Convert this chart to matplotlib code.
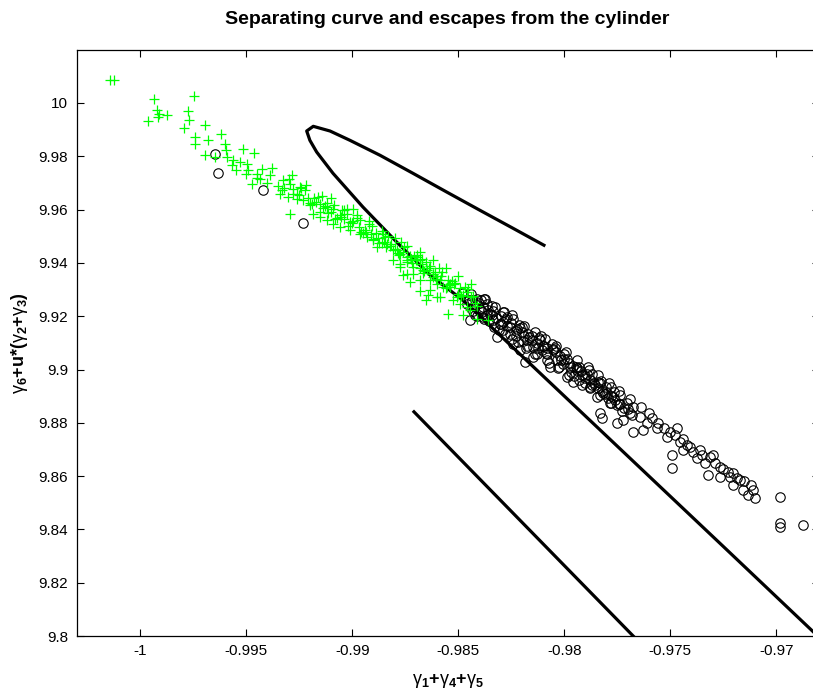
import matplotlib
matplotlib.use("Agg")
import matplotlib.pyplot as plt

plt.rcParams['font.family'] = ['Liberation Sans', 'DejaVu Sans']
plt.rcParams['mathtext.fontset'] = 'custom'
plt.rcParams['mathtext.rm'] = 'Liberation Sans:bold'
plt.rcParams['mathtext.bf'] = 'Liberation Sans:bold'
plt.rcParams['mathtext.it'] = 'Liberation Sans'

# separating curve (loop) and the second branch
curve_x = [-0.98096, -0.98242, -0.98398, -0.98555, -0.98714, -0.98869, -0.99011,
           -0.99105, -0.99184, -0.99215, -0.99200, -0.99168, -0.99091, -0.98950,
           -0.98791, -0.98633, -0.98478, -0.97242, -0.96826, -0.96794]
curve_y = [9.94663, 9.95300, 9.95975, 9.96661, 9.97363, 9.98038, 9.98600,
           9.98949, 9.99125, 9.98949, 9.98600, 9.98161, 9.97363, 9.96099,
           9.94786, 9.93538, 9.92600, 9.83300, 9.80161, 9.79906]
branch_x = [-0.98709, -0.97675, -0.97660]
branch_y = [9.88413, 9.80000, 9.79880]

# trajectories staying inside (green)
stay_x = [-1.00143, -1.00124, -0.99934, -0.99745, -0.99920, -0.99910, -0.99876, -0.99962,
          -0.99915, -0.99773, -0.99769, -0.99794, -0.99696, -0.99621, -0.99742, -0.99742,
          -0.99679, -0.99601, -0.99596, -0.99517, -0.99464, -0.99695, -0.99648, -0.99593,
          -0.99561, -0.99569, -0.99530, -0.99498, -0.99490, -0.99451, -0.99428, -0.99380,
          -0.99388, -0.99435, -0.99475, -0.99325, -0.99286, -0.99294, -0.99247, -0.99223,
          -0.99333, -0.99341, -0.99302, -0.99262, -0.99231, -0.99200, -0.99152, -0.99121,
          -0.99090, -0.99184, -0.99152, -0.99294, -0.99121, -0.99090, -0.99058, -0.98995,
          -0.99027, -0.99011, -0.98964, -0.98932, -0.98901, -0.98854, -0.98838, -0.98885,
          -0.98807, -0.98775, -0.98744, -0.98697, -0.98673, -0.98712, -0.98665, -0.98618,
          -0.98587, -0.98555, -0.98807, -0.98775, -0.98744, -0.98681, -0.98634, -0.98602,
          -0.98650,
          -0.99280, -0.99250, -0.99210, -0.99170, -0.99140, -0.99100, -0.99060, -0.99040,
          -0.99000, -0.98970, -0.98940, -0.98910, -0.98880, -0.98850, -0.98820, -0.98790,
          -0.98760, -0.98730, -0.98700, -0.98670, -0.98640, -0.98610, -0.98580, -0.98550,
          -0.98520, -0.98490, -0.98460, -0.98430,
          -0.99150, -0.99080, -0.99020, -0.98960, -0.98900, -0.98840, -0.98780, -0.98720,
          -0.98660, -0.98600, -0.98540, -0.98480, -0.98420,
          -0.99180, -0.99120, -0.99050, -0.98980, -0.98920, -0.98860, -0.98800, -0.98740,
          -0.98680, -0.98620, -0.98560, -0.98500, -0.98440,
          -0.99350, -0.99320, -0.99400, -0.99450, -0.99500, -0.99550,
          -0.98775, -0.98744, -0.98696, -0.98681, -0.98649, -0.98618, -0.98602, -0.98571,
          -0.98539, -0.98586, -0.98547, -0.98523, -0.98492, -0.98460, -0.98445, -0.98413,
          -0.98358, -0.98476, -0.98508, -0.98634, -0.98712, -0.98681, -0.98641, -0.98759,
          -0.98728,
          -0.99300, -0.99260, -0.99220, -0.99190, -0.99160, -0.99130, -0.99100, -0.99070,
          -0.99040, -0.99010, -0.98980, -0.98950, -0.98920, -0.98890, -0.98860, -0.98830,
          -0.98800, -0.98770, -0.98740, -0.98710, -0.98680, -0.98650, -0.98620, -0.98590,
          -0.98560, -0.98530, -0.98500, -0.98470, -0.98440, -0.98410,
          -0.99280, -0.99240, -0.99200, -0.99145, -0.99115, -0.99085, -0.99055, -0.99025,
          -0.98995, -0.98965, -0.98935, -0.98905, -0.98875, -0.98845, -0.98815, -0.98785,
          -0.98755, -0.98725, -0.98695, -0.98665, -0.98635, -0.98605, -0.98575, -0.98545,
          -0.98515, -0.98485, -0.98455]
stay_y = [10.00850, 10.00850, 10.00163, 10.00250, 9.99750, 9.99600, 9.99563, 9.99313,
          9.99475, 9.99700, 9.99350, 9.99063, 9.99163, 9.98825, 9.98725, 9.98475,
          9.98625, 9.98475, 9.98225, 9.98288, 9.98125, 9.98038, 9.97975, 9.97975,
          9.97850, 9.97663, 9.97788, 9.97725, 9.97475, 9.97350, 9.97538, 9.97575,
          9.97288, 9.97163, 9.96975, 9.97100, 9.97288, 9.96975, 9.96850, 9.96725,
          9.96725, 9.96600, 9.96475, 9.96413, 9.96350, 9.96163, 9.96225, 9.96100,
          9.96038, 9.95850, 9.95725, 9.95850, 9.95600, 9.95475, 9.95350, 9.96038,
          9.95850, 9.95225, 9.95100, 9.94975, 9.94850, 9.95100, 9.94725, 9.94600,
          9.94475, 9.94350, 9.94225, 9.94100, 9.94163, 9.93850, 9.93725, 9.93600,
          9.93350, 9.93100, 9.94100, 9.93850, 9.93600, 9.93350, 9.92975, 9.92725,
          9.92600,
          9.96600, 9.96550, 9.96450, 9.96300, 9.96050, 9.95900, 9.95800, 9.95650,
          9.95500, 9.95350, 9.95250, 9.95100, 9.94950, 9.94800, 9.94650, 9.94500,
          9.94400, 9.94250, 9.94100, 9.93950, 9.93800, 9.93650, 9.93500, 9.93350,
          9.93200, 9.93050, 9.92900, 9.92750,
          9.95900, 9.95650, 9.95400, 9.95150, 9.94900, 9.94600, 9.94300, 9.94000,
          9.93700, 9.93400, 9.93100, 9.92800, 9.92500,
          9.96450, 9.96250, 9.96000, 9.95700, 9.95450, 9.95200, 9.94950, 9.94650,
          9.94400, 9.94100, 9.93800, 9.93500, 9.93200,
          9.96900, 9.96800, 9.97000, 9.97200, 9.97350, 9.97500,
          9.93975, 9.94100, 9.94225, 9.94100, 9.93725, 9.93475, 9.93225, 9.93100,
          9.93225, 9.92725, 9.92100, 9.92600, 9.92475, 9.92350, 9.92225, 9.91913,
          9.91850, 9.92038, 9.92725, 9.93350, 9.93600, 9.92950, 9.92788, 9.93538,
          9.93288,
          9.97160, 9.96592, 9.96924, 9.96198, 9.96472, 9.96146, 9.96420, 9.95694,
          9.95968, 9.95542, 9.95794, 9.95135, 9.95576, 9.95117, 9.94758, 9.94999,
          9.94540, 9.94781, 9.94022, 9.94263, 9.93804, 9.94045, 9.93586, 9.93827,
          9.93068, 9.93309, 9.92850, 9.93091, 9.92732, 9.92373,
          9.96776, 9.96808, 9.96240, 9.96509, 9.95883, 9.96157, 9.95731, 9.96005,
          9.95573, 9.95614, 9.95156, 9.95397, 9.94738, 9.94979, 9.94720, 9.94361,
          9.94602, 9.94143, 9.94284, 9.93625, 9.93866, 9.93407, 9.93648, 9.93189,
          9.93230, 9.92771, 9.93012]

# escapes from the cylinder (black circles)
esc_x = [-0.99648, -0.99632, -0.99420, -0.99231,
         -0.98484, -0.98437, -0.98374, -0.98366, -0.98398, -0.98445, -0.98421, -0.98382,
         -0.98351, -0.98335, -0.98303, -0.98272, -0.98248, -0.98288, -0.98319, -0.98256,
         -0.98225, -0.98201, -0.98241, -0.98209, -0.98178, -0.98146, -0.98115, -0.98107,
         -0.98146, -0.98083, -0.98052, -0.98036, -0.98068, -0.98185, -0.98005, -0.97973,
         -0.97942, -0.97989, -0.97958, -0.97918, -0.97895, -0.97871, -0.97903, -0.97879,
         -0.97832, -0.97816, -0.97848, -0.97801, -0.97769, -0.97738, -0.97785, -0.97706,
         -0.97675, -0.97690, -0.97722, -0.97753, -0.97832, -0.97824, -0.97643, -0.97612,
         -0.97588, -0.97627, -0.97675, -0.97565, -0.97517, -0.97502, -0.97470, -0.97455,
         -0.97494, -0.97494, -0.97439, -0.97407, -0.97392, -0.97360, -0.97376, -0.97337,
         -0.97321, -0.97313, -0.97297, -0.97266, -0.97266, -0.97227, -0.97219, -0.97203,
         -0.97187, -0.97203, -0.97172, -0.97156, -0.97132, -0.97109, -0.97101, -0.96983,
         -0.96983, -0.96983, -0.96873, -0.98478, -0.98413, -0.98379,
         -0.98450, -0.98420, -0.98400, -0.98390, -0.98360, -0.98340, -0.98320, -0.98300,
         -0.98290, -0.98270, -0.98250, -0.98230, -0.98210, -0.98190, -0.98170, -0.98150,
         -0.98130, -0.98120, -0.98100, -0.98080, -0.98060, -0.98040, -0.98020, -0.98000,
         -0.97980, -0.97960, -0.97940, -0.97920, -0.97900, -0.97880, -0.97860, -0.97840,
         -0.97820, -0.97800, -0.97780, -0.97760, -0.97740, -0.97720, -0.97700, -0.97680,
         -0.98380, -0.98330, -0.98280, -0.98220, -0.98180, -0.98130, -0.98080, -0.98030,
         -0.97980, -0.97930, -0.97880, -0.97830, -0.97780, -0.97730,
         -0.98340, -0.98290, -0.98240, -0.98190, -0.98140, -0.98090, -0.98040, -0.97990,
         -0.97940, -0.97890, -0.97840, -0.97790, -0.97740, -0.97690, -0.97640, -0.97600,
         -0.97560, -0.97530, -0.97480, -0.97440, -0.97420, -0.97350, -0.97290, -0.97250,
         -0.97150, -0.97120,
         -0.98440, -0.98410, -0.98385, -0.98355, -0.98325, -0.98300, -0.98275, -0.98245,
         -0.98215, -0.98195, -0.98165, -0.98140, -0.98110, -0.98085, -0.98055, -0.98025,
         -0.98000, -0.97970, -0.97945, -0.97915, -0.97885, -0.97855, -0.97825, -0.97795,
         -0.97765, -0.97735,
         -0.98460, -0.98430, -0.98395, -0.98365, -0.98335, -0.98310, -0.98285, -0.98255,
         -0.98230, -0.98200, -0.98175, -0.98150, -0.98125, -0.98095, -0.98070, -0.98045,
         -0.98015, -0.97985, -0.97955, -0.97930, -0.97900, -0.97870, -0.97840, -0.97810,
         -0.97780, -0.97750]
esc_y = [9.98100, 9.97375, 9.96750, 9.95513,
         9.92875, 9.92600, 9.92663, 9.92475, 9.92288, 9.91850, 9.92038, 9.91975,
         9.92100, 9.91850, 9.91725, 9.91975, 9.92038, 9.91475, 9.91225, 9.91350,
         9.91538, 9.91413, 9.90975, 9.90725, 9.91100, 9.90850, 9.91100, 9.90725,
         9.90475, 9.90600, 9.90725, 9.90350, 9.90100, 9.90288, 9.90225, 9.90100,
         9.89975, 9.89725, 9.89538, 9.89788, 9.89850, 9.89850, 9.89475, 9.89288,
         9.89475, 9.89100, 9.88975, 9.89350, 9.88975, 9.89038, 9.88725, 9.88725,
         9.88600, 9.88350, 9.88100, 9.87975, 9.88350, 9.88163, 9.88225, 9.87975,
         9.88163, 9.87725, 9.87663, 9.87788, 9.87475, 9.87663, 9.87788, 9.87288,
         9.86788, 9.86288, 9.86975, 9.87100, 9.86913, 9.86975, 9.86663, 9.86475,
         9.86038, 9.86725, 9.86788, 9.86350, 9.85975, 9.86163, 9.85975, 9.86100,
         9.85913, 9.85663, 9.85850, 9.85475, 9.85288, 9.85475, 9.85163, 9.85225,
         9.84225, 9.84100, 9.84163, 9.92874, 9.92664, 9.92638,
         9.92600, 9.92450, 9.92500, 9.92150, 9.92250, 9.92050, 9.91950, 9.92000,
         9.91800, 9.91650, 9.91750, 9.91450, 9.91550, 9.91250, 9.91350, 9.91100,
         9.91000, 9.91200, 9.90900, 9.90800, 9.90950, 9.90650, 9.90500, 9.90400,
         9.90250, 9.90150, 9.90050, 9.89950, 9.89700, 9.89600, 9.89500, 9.89300,
         9.89200, 9.89100, 9.89000, 9.88850, 9.88700, 9.88550, 9.88500, 9.88300,
         9.91900, 9.91600, 9.91350, 9.91050, 9.90800, 9.90600, 9.90350, 9.90050,
         9.89800, 9.89600, 9.89350, 9.89050, 9.88750, 9.88450,
         9.92400, 9.92150, 9.91900, 9.91650, 9.91400, 9.91150, 9.90900, 9.90650,
         9.90350, 9.90100, 9.89800, 9.89500, 9.89200, 9.88900, 9.88600, 9.88350,
         9.88000, 9.87800, 9.87550, 9.87400, 9.87150, 9.86800, 9.86500, 9.86250,
         9.85800, 9.85650,
         9.92848, 9.91993, 9.92364, 9.91809, 9.92354, 9.91725, 9.91895, 9.91140,
         9.91685, 9.91082, 9.91227, 9.90597, 9.91242, 9.90613, 9.90758, 9.90103,
         9.90574, 9.89918, 9.90089, 9.89434, 9.89979, 9.89424, 9.89569, 9.88914,
         9.89159, 9.88703,
         9.92452, 9.92197, 9.92616, 9.92061, 9.92205, 9.91476, 9.92147, 9.91592,
         9.91263, 9.91608, 9.90878, 9.91249, 9.90820, 9.90865, 9.90235, 9.90806,
         9.90351, 9.90396, 9.89741, 9.90112, 9.89757, 9.89401, 9.89546, 9.89091,
         9.89336, 9.88681]

xticks = [-1.0, -0.995, -0.99, -0.985, -0.98, -0.975, -0.97]
xtick_labels = ['-1', '-0.995', '-0.99', '-0.985', '-0.98', '-0.975', '-0.97']
yticks = [9.8, 9.82, 9.84, 9.86, 9.88, 9.9, 9.92, 9.94, 9.96, 9.98, 10.0]
ytick_labels = ['9.8', '9.82', '9.84', '9.86', '9.88', '9.9', '9.92', '9.94', '9.96', '9.98', '10']

fig = plt.figure(figsize=(8.13, 6.97), dpi=100)
ax = fig.add_axes([0.0943, 0.0875, 0.9127, 0.8412])

ax.plot(curve_x, curve_y, color='black', lw=2.3, zorder=1)
ax.plot(branch_x, branch_y, color='black', lw=2.3, zorder=1)
ax.plot(esc_x, esc_y, 'o', mfc='none', mec='black', ms=6.8, mew=0.8, zorder=2)
ax.plot(stay_x, stay_y, '+', color='#00ff00', ms=7.5, mew=0.9, zorder=3)

ax.set_xlim(-1.003, -0.968)
ax.set_ylim(9.8, 10.02)
ax.set_xticks(xticks)
ax.set_xticklabels(xtick_labels)
ax.set_yticks(yticks)
ax.set_yticklabels(ytick_labels)
ax.tick_params(direction='in', length=5, width=0.8, top=True, right=True, labelsize=11, pad=6)
for s in ax.spines.values():
    s.set_linewidth(0.9)

ax.set_title('Separating curve and escapes from the cylinder', fontsize=14, fontweight='bold', pad=18.5)
ax.set_xlabel(r'$\gamma_1$+$\gamma_4$+$\gamma_5$', fontsize=13, fontweight='bold', labelpad=10)
ax.set_ylabel(r'$\gamma_6$+u*($\gamma_2$+$\gamma_3$)', fontsize=13, fontweight='bold', labelpad=6)

fig.savefig('out.png', dpi=100)
